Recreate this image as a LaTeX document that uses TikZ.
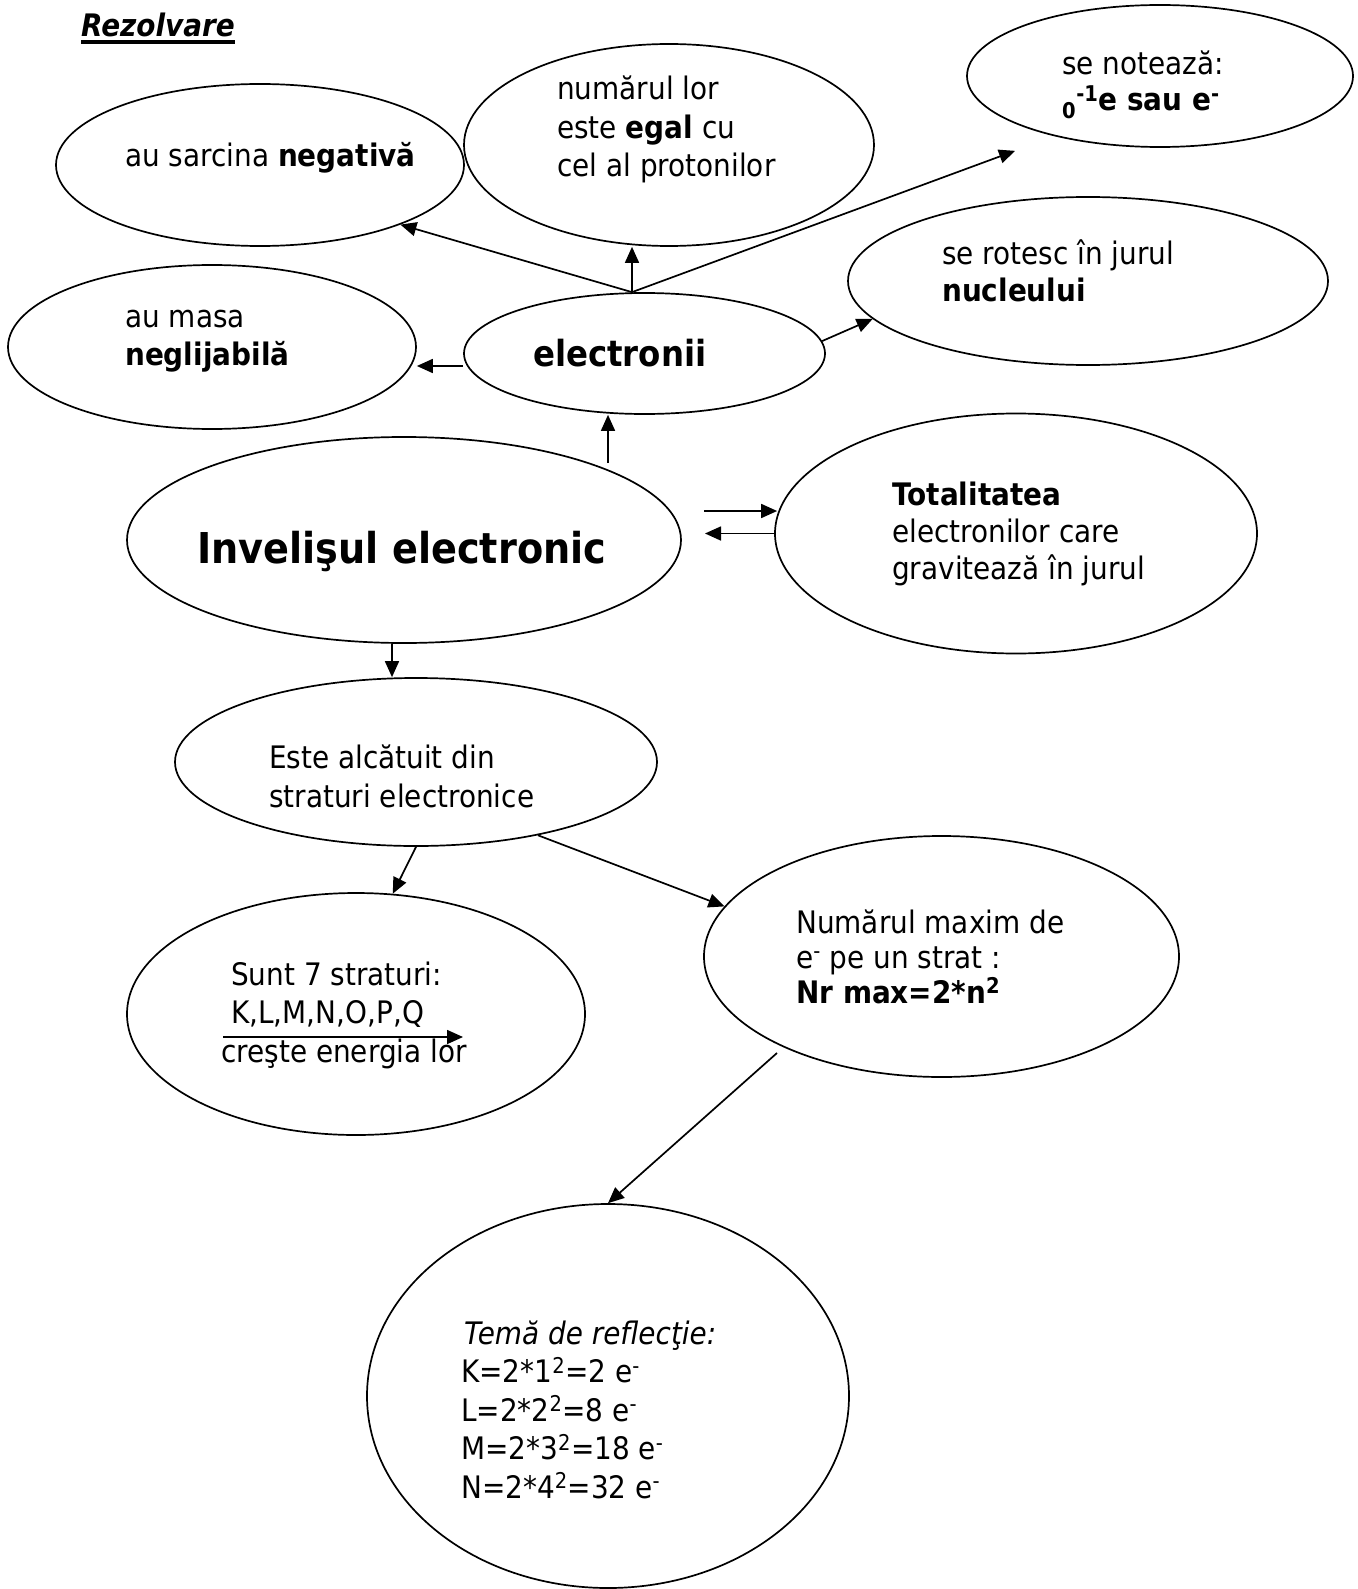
\documentclass[tikz,border=0pt]{standalone}
\usepackage{fontspec}
\setmainfont{DejaVu Sans}[FakeStretch=0.9]
\usetikzlibrary{shapes.geometric,arrows.meta,calc}
\newcommand\lns[2][37.5pt]{\vtop{\baselineskip=#1\lineskiplimit=-\maxdimen\lineskip=0pt\halign{##\hfil\cr#2\crcr}}}
\newcommand\thickul[1]{\setbox0\hbox{#1}\rlap{\rule[-7.5pt]{\wd0}{4pt}}\box0}
\begin{document}
\begin{tikzpicture}[x=1pt,y=-1pt,
  ell/.style={draw, ellipse, line width=1.7pt, inner sep=0pt},
  txt/.style={anchor=base west, inner sep=0pt, font=\fontsize{31}{37.5}\selectfont},
  arr/.style={line width=1.7pt, -{Triangle[length=16pt,width=14pt]}}]
\useasboundingbox (0,0) rectangle (1357,1589);
% ellipses
\node[ell, minimum width=408pt, minimum height=162pt] (sarc) at (260,165) {};
\node[ell, minimum width=410pt, minimum height=202pt] (num) at (669,145) {};
\node[ell, minimum width=386pt, minimum height=142pt] (note) at (1160,76) {};
\node[ell, minimum width=480pt, minimum height=168pt] (rot) at (1088,281) {};
\node[ell, minimum width=408pt, minimum height=164pt] (masa) at (212,347) {};
\node[ell, minimum width=361pt, minimum height=121pt] (elec) at (644.5,353.5) {};
\node[ell, minimum width=554pt, minimum height=206pt] (inv) at (404,540) {};
\node[ell, minimum width=482pt, minimum height=240pt] (tot) at (1016,533.5) {};
\node[ell, minimum width=482pt, minimum height=168pt] (este) at (416,762) {};
\node[ell, minimum width=458pt, minimum height=242pt] (sunt) at (356,1014) {};
\node[ell, minimum width=475pt, minimum height=241pt] (numax) at (941.5,956.5) {};
\node[ell, minimum width=482pt, minimum height=384pt] (tema) at (608,1396) {};
% texts
\node[txt] (trez) at (81,37) {\thickul{\textbf{\textit{Rezolvare}}}};
\node[txt] (tsarc) at (125,167) {\lns{au sarcina \textbf{negativă}}};
\node[txt] (tnum) at (557,100) {\lns[38.5pt]{numărul lor\cr este \textbf{egal} cu\cr cel al protonilor}};
\node[txt] (tnote) at (1062,75) {\lns[36pt]{se notează:\cr \textbf{\textsubscript{0}\textsuperscript{-1}e sau e\textsuperscript{-}}}};
\node[txt] (trot) at (942,265) {\lns[37pt]{se rotesc în jurul\cr \textbf{nucleului}}};
\node[txt] (tmasa) at (125,327) {\lns[38.5pt]{au masa\cr \textbf{neglijabilă}}};
\node[txt, font=\fontsize{36}{40}\selectfont\bfseries] (telec) at (533,366) {electronii};
\node[txt, font=\fontsize{42.5}{48}\selectfont\bfseries] (tinv) at (197,563) {Invelişul electronic};
\node[txt] (ttot) at (892,505) {\lns[37pt]{\textbf{Totalitatea}\cr electronilor care\cr gravitează în jurul}};
\node[txt] (teste) at (269,768) {\lns[39pt]{Este alcătuit din\cr straturi electronice}};
\node[txt] (tsunt) at (221,985) {\lns[38.5pt]{\hspace{10pt}Sunt 7 straturi:\cr \hspace{10pt}K,L,M,N,O,P,Q\cr creşte energia lor}};
\node[txt] (tnumax) at (796,933) {\lns[35pt]{Numărul maxim de\cr e\textsuperscript{-} pe un strat :\cr \textbf{Nr max=2*n\textsuperscript{2}}}};
\node[txt] (ttema) at (461,1344) {\lns[38.5pt]{\hspace{3pt}\textit{Temă de reflecţie:}\cr K=2*1\textsuperscript{2}=2 e\textsuperscript{-}\cr L=2*2\textsuperscript{2}=8 e\textsuperscript{-}\cr M=2*3\textsuperscript{2}=18 e\textsuperscript{-}\cr N=2*4\textsuperscript{2}=32 e\textsuperscript{-}}};
% helper coordinates
\coordinate (etop) at ([xshift=-12.5pt]elec.north);
\coordinate (ntip) at ([xshift=-145pt,yshift=-3pt]note.south);
\coordinate (istart) at (608,463);
\coordinate (i1) at (704,511);
\coordinate (i2) at (705,533.5);
\coordinate (nstart) at (777,1053);
\coordinate (ea) at (223,1037);
\coordinate (eb) at (463,1037);
% connectors
\draw[arr] (etop) -- (sarc.-23);
\draw[arr] (etop) -- (etop |- num.south);
\draw[arr] (etop) -- (ntip);
\draw[arr] ([yshift=-12.5pt]elec.west) -- ([yshift=-12.5pt]elec.west -| masa.east);
\draw[arr] (elec.4) -- (rot.-170);
\draw[arr] (istart) -- (istart |- elec.south);
\draw[arr] (i1) -- ([xshift=3pt]i1 -| tot.west);
\draw[arr] (tot.west) -- (i2);
\draw[arr] ([xshift=-12pt]inv.south) -- ([xshift=-24pt]este.north);
\draw[arr] (este.south) -- (sunt.73);
\draw[arr] (este.-31.5) -- (numax.167.5);
\draw[arr] (nstart) -- (tema.north);
\draw[arr] (ea) -- (eb);
\end{tikzpicture}
\end{document}
